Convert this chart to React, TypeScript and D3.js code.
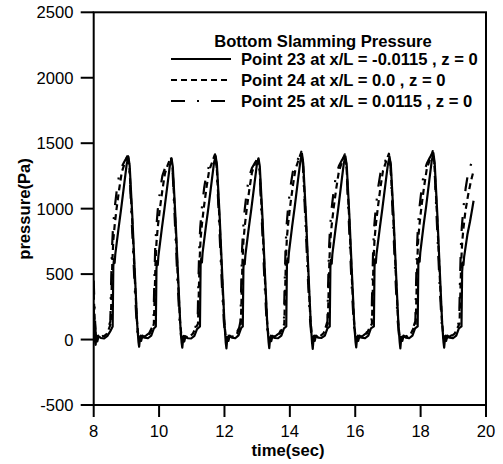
import React from 'react';
import * as d3 from 'd3';

const xTicks = [8, 10, 12, 14, 16, 18, 20];
const yTicks = [-500, 0, 500, 1000, 1500, 2000, 2500];
const xLabel = 'time(sec)';
const yLabel = 'pressure(Pa)';
const legendTitle = 'Bottom Slamming Pressure';
const seriesNames = [
  'Point 23 at x/L = -0.0115 , z = 0',
  'Point 24 at x/L = 0.0 , z = 0',
  'Point 25 at x/L = 0.0115 , z = 0',
];

type P = [number, number];

const point23: P[] = [
  [8.0, 250], [8.02, 120], [8.04, -10], [8.06, -40], [8.08, 30], [8.11, -15], [8.15, 25], [8.22, 12], [8.32, 8], [8.42, 28], [8.5, 60],
  [8.58, 100], [8.6, 560], [8.62, 615], [8.64, 585], [8.66, 650], [8.76, 850], [8.84, 1000], [8.94, 1200], [9.01, 1340], [9.06, 1395], [9.1, 1330], [9.18, 950], [9.26, 500], [9.33, 120], [9.37, -20], [9.39, -55], [9.42, 20], [9.45, -10], [9.49, 30], [9.56, 15], [9.66, 10], [9.76, 30], [9.84, 85],
  [9.9, 100], [9.92, 540], [9.94, 600], [9.96, 570], [9.98, 640], [10.08, 840], [10.16, 990], [10.26, 1190], [10.33, 1330], [10.38, 1385], [10.42, 1320], [10.5, 940], [10.58, 490], [10.65, 110], [10.69, -25], [10.71, -62], [10.74, 15], [10.77, -15], [10.81, 25], [10.88, 10], [10.98, 8], [11.08, 28], [11.16, 80],
  [11.25, 100], [11.27, 570], [11.29, 620], [11.31, 590], [11.33, 660], [11.43, 860], [11.51, 1010], [11.61, 1210], [11.68, 1350], [11.73, 1400], [11.77, 1335], [11.85, 955], [11.93, 505], [12.0, 125], [12.04, -25], [12.06, -68], [12.09, 20], [12.12, -10], [12.16, 30], [12.23, 15], [12.33, 10], [12.43, 32], [12.51, 88],
  [12.56, 100], [12.58, 550], [12.6, 605], [12.62, 575], [12.64, 645], [12.74, 845], [12.82, 995], [12.92, 1195], [12.99, 1335], [13.04, 1385], [13.08, 1325], [13.16, 945], [13.24, 495], [13.31, 115], [13.35, -20], [13.37, -66], [13.4, 18], [13.43, -12], [13.47, 28], [13.54, 12], [13.64, 10], [13.74, 30], [13.82, 85],
  [13.89, 100], [13.91, 565], [13.93, 620], [13.95, 590], [13.97, 660], [14.07, 865], [14.15, 1015], [14.25, 1220], [14.32, 1360], [14.37, 1420], [14.41, 1345], [14.49, 960], [14.57, 505], [14.64, 120], [14.68, -25], [14.7, -72], [14.73, 20], [14.76, -10], [14.8, 30], [14.87, 15], [14.97, 12], [15.07, 30], [15.15, 85],
  [15.22, 100], [15.24, 555], [15.26, 610], [15.28, 580], [15.3, 650], [15.4, 850], [15.48, 1000], [15.58, 1205], [15.65, 1345], [15.7, 1400], [15.74, 1330], [15.82, 950], [15.9, 500], [15.97, 120], [16.01, -20], [16.03, -60], [16.06, 20], [16.09, -10], [16.13, 30], [16.2, 15], [16.3, 10], [16.4, 30], [16.48, 85],
  [16.57, 100], [16.59, 560], [16.61, 615], [16.63, 585], [16.65, 650], [16.75, 850], [16.83, 1000], [16.93, 1200], [17.0, 1340], [17.05, 1395], [17.09, 1330], [17.17, 950], [17.25, 500], [17.32, 120], [17.36, -20], [17.38, -68], [17.41, 20], [17.44, -10], [17.48, 30], [17.55, 15], [17.65, 10], [17.75, 30], [17.83, 85],
  [17.91, 100], [17.93, 570], [17.95, 625], [17.97, 595], [17.99, 665], [18.09, 870], [18.17, 1020], [18.27, 1225], [18.34, 1365], [18.39, 1425], [18.43, 1350], [18.51, 960], [18.59, 505], [18.66, 120], [18.7, -20], [18.72, -62], [18.75, 20], [18.78, -10], [18.82, 30], [18.89, 15], [18.99, 10], [19.09, 30], [19.17, 85],
  [19.25, 100], [19.27, 520], [19.29, 590], [19.31, 570], [19.33, 630], [19.43, 800], [19.51, 900], [19.58, 1000], [19.62, 1060],
];

const point24: P[] = [
  [8.0, 350], [8.03, 150], [8.06, 40], [8.09, 20], [8.14, 30], [8.21, 20], [8.31, 25], [8.41, 45], [8.47, 85],
  [8.52, 120], [8.54, 300], [8.57, 600], [8.6, 760], [8.64, 870], [8.7, 1000], [8.78, 1150], [8.86, 1280], [8.94, 1340], [9.01, 1390], [9.04, 1410], [9.09, 1330], [9.18, 900], [9.26, 450], [9.32, 150], [9.36, 40], [9.39, 20], [9.44, 30], [9.51, 20], [9.61, 25], [9.71, 45], [9.81, 95],
  [9.84, 120], [9.86, 290], [9.89, 580], [9.92, 740], [9.96, 860], [10.02, 990], [10.1, 1140], [10.18, 1270], [10.26, 1330], [10.33, 1375], [10.36, 1390], [10.41, 1320], [10.5, 890], [10.58, 440], [10.64, 145], [10.68, 38], [10.71, 18], [10.76, 28], [10.83, 18], [10.93, 24], [11.03, 44], [11.13, 92],
  [11.19, 120], [11.21, 310], [11.24, 610], [11.27, 770], [11.31, 880], [11.37, 1010], [11.45, 1160], [11.53, 1290], [11.61, 1345], [11.68, 1395], [11.71, 1415], [11.76, 1335], [11.85, 905], [11.93, 455], [11.99, 150], [12.03, 40], [12.06, 20], [12.11, 30], [12.18, 20], [12.28, 25], [12.38, 45], [12.48, 95],
  [12.5, 120], [12.52, 295], [12.55, 590], [12.58, 750], [12.62, 865], [12.68, 995], [12.76, 1145], [12.84, 1275], [12.92, 1335], [12.99, 1375], [13.02, 1390], [13.07, 1320], [13.16, 895], [13.24, 445], [13.3, 148], [13.34, 40], [13.37, 20], [13.42, 30], [13.49, 20], [13.59, 25], [13.69, 45], [13.79, 95],
  [13.83, 120], [13.85, 310], [13.88, 620], [13.91, 780], [13.95, 890], [14.01, 1020], [14.09, 1170], [14.17, 1300], [14.25, 1360], [14.32, 1410], [14.35, 1435], [14.4, 1345], [14.49, 910], [14.57, 455], [14.63, 150], [14.67, 40], [14.7, 20], [14.75, 30], [14.82, 20], [14.92, 25], [15.02, 45], [15.12, 95],
  [15.16, 120], [15.18, 305], [15.21, 610], [15.24, 765], [15.28, 875], [15.34, 1005], [15.42, 1155], [15.5, 1285], [15.58, 1345], [15.65, 1395], [15.68, 1415], [15.73, 1335], [15.82, 905], [15.9, 450], [15.96, 150], [16.0, 40], [16.03, 20], [16.08, 30], [16.15, 20], [16.25, 25], [16.35, 45], [16.45, 95],
  [16.51, 120], [16.53, 300], [16.56, 605], [16.59, 765], [16.63, 875], [16.69, 1005], [16.77, 1160], [16.85, 1290], [16.93, 1350], [17.0, 1400], [17.03, 1420], [17.08, 1335], [17.17, 905], [17.25, 450], [17.31, 150], [17.35, 40], [17.38, 20], [17.43, 30], [17.5, 20], [17.6, 25], [17.7, 45], [17.8, 95],
  [17.85, 120], [17.87, 315], [17.9, 620], [17.93, 780], [17.97, 890], [18.03, 1025], [18.11, 1175], [18.19, 1305], [18.27, 1365], [18.34, 1415], [18.37, 1440], [18.42, 1350], [18.51, 910], [18.59, 455], [18.65, 150], [18.69, 40], [18.72, 20], [18.77, 30], [18.84, 20], [18.94, 25], [19.04, 45], [19.14, 95],
  [19.19, 120], [19.21, 300], [19.24, 580], [19.27, 740], [19.31, 850], [19.37, 980], [19.45, 1100], [19.53, 1200], [19.62, 1290],
];

const point25: P[] = [
  [8.0, 450], [8.03, 200], [8.06, 50], [8.09, 5], [8.14, 25], [8.21, 15], [8.3, 30], [8.38, 50], [8.45, 90],
  [8.51, 140], [8.53, 400], [8.56, 700], [8.59, 850], [8.64, 1000], [8.71, 1150], [8.78, 1260], [8.86, 1320], [8.94, 1360], [9.01, 1390], [9.05, 1400], [9.09, 1320], [9.17, 870], [9.25, 420], [9.31, 140], [9.35, 30], [9.38, 5], [9.43, 25], [9.5, 15], [9.6, 30], [9.7, 50], [9.78, 90],
  [9.83, 140], [9.85, 390], [9.88, 690], [9.91, 840], [9.96, 990], [10.03, 1140], [10.1, 1250], [10.18, 1310], [10.26, 1345], [10.33, 1370], [10.37, 1380], [10.41, 1310], [10.49, 860], [10.57, 410], [10.63, 135], [10.67, 28], [10.7, 4], [10.75, 22], [10.82, 14], [10.92, 28], [11.02, 48], [11.1, 88],
  [11.18, 140], [11.2, 410], [11.23, 710], [11.26, 860], [11.31, 1010], [11.38, 1160], [11.45, 1270], [11.53, 1325], [11.61, 1365], [11.68, 1395], [11.72, 1405], [11.76, 1320], [11.84, 870], [11.92, 420], [11.98, 140], [12.02, 30], [12.05, 5], [12.1, 25], [12.17, 15], [12.27, 30], [12.37, 50], [12.45, 90],
  [12.49, 140], [12.51, 395], [12.54, 695], [12.57, 845], [12.62, 995], [12.69, 1145], [12.76, 1250], [12.84, 1310], [12.92, 1345], [12.99, 1370], [13.03, 1380], [13.07, 1310], [13.15, 865], [13.23, 415], [13.29, 138], [13.33, 30], [13.36, 5], [13.41, 25], [13.48, 15], [13.58, 30], [13.68, 50], [13.76, 90],
  [13.82, 140], [13.84, 410], [13.87, 715], [13.9, 870], [13.95, 1020], [14.02, 1170], [14.09, 1280], [14.17, 1340], [14.25, 1380], [14.32, 1410], [14.36, 1425], [14.4, 1335], [14.48, 880], [14.56, 425], [14.62, 140], [14.66, 30], [14.69, 5], [14.74, 25], [14.81, 15], [14.91, 30], [15.01, 50], [15.09, 90],
  [15.15, 140], [15.17, 405], [15.2, 705], [15.23, 855], [15.28, 1005], [15.35, 1155], [15.42, 1265], [15.5, 1325], [15.58, 1365], [15.65, 1395], [15.69, 1405], [15.73, 1320], [15.81, 870], [15.89, 420], [15.95, 140], [15.99, 30], [16.02, 5], [16.07, 25], [16.14, 15], [16.24, 30], [16.34, 50], [16.42, 90],
  [16.5, 140], [16.52, 400], [16.55, 705], [16.58, 860], [16.63, 1010], [16.7, 1160], [16.77, 1270], [16.85, 1330], [16.93, 1370], [17.0, 1400], [17.04, 1410], [17.08, 1325], [17.16, 870], [17.24, 420], [17.3, 140], [17.34, 30], [17.37, 5], [17.42, 25], [17.49, 15], [17.59, 30], [17.69, 50], [17.77, 90],
  [17.84, 140], [17.86, 410], [17.89, 715], [17.92, 870], [17.97, 1020], [18.04, 1175], [18.11, 1285], [18.19, 1345], [18.27, 1385], [18.34, 1415], [18.38, 1430], [18.42, 1340], [18.5, 880], [18.58, 425], [18.64, 140], [18.68, 30], [18.71, 5], [18.76, 25], [18.83, 15], [18.93, 30], [19.03, 50], [19.11, 90],
  [19.18, 140], [19.2, 400], [19.23, 700], [19.26, 860], [19.31, 1010], [19.38, 1160], [19.45, 1270], [19.53, 1330], [19.62, 1400],
];

const seriesData = [point23, point24, point25];
const dashes = ['none', '6,4', '14,12,2,12'];

export default function App() {
  const W = 503;
  const H = 464;
  const left = 93.7, right = 486, top = 12.3, bottom = 405;
  const x = d3.scaleLinear().domain([8, 20]).range([left, right]);
  const y = d3.scaleLinear().domain([-500, 2500]).range([bottom, top]);
  const line = d3.line<P>().x(d => x(d[0])).y(d => y(d[1]));
  const font = '"Liberation Sans", Arial, Helvetica, sans-serif';
  const legendRows = [59, 80, 101];
  const legendBase = [65, 86, 107];
  const fs = 16.6;

  return (
    <svg width={W} height={H} style={{ position: 'absolute', left: 0, top: 0, background: '#fff' }} fontFamily={font}>
      <defs>
        <clipPath id="plotclip">
          <rect x={left} y={top} width={right - left} height={bottom - top} />
        </clipPath>
      </defs>
      <rect x={0} y={0} width={W} height={H} fill="#fff" />
      <g clipPath="url(#plotclip)">
        {seriesData.map((s, i) => (
          <path key={i} d={line(s) || ''} fill="none" stroke="#000" strokeWidth={2.2}
            strokeDasharray={dashes[i]} strokeLinejoin="round" />
        ))}
      </g>
      <rect x={left} y={top} width={right - left} height={bottom - top} fill="none" stroke="#000" strokeWidth={2} />
      {yTicks.map(t => (
        <g key={'y' + t}>
          <line x1={left - 13} x2={left} y1={y(t)} y2={y(t)} stroke="#000" strokeWidth={2} />
          <text x={73.5} y={y(t) + 6} textAnchor="end" fontSize={fs}>{t}</text>
        </g>
      ))}
      {xTicks.map(t => (
        <g key={'x' + t}>
          <line x1={x(t)} x2={x(t)} y1={bottom} y2={bottom + 12} stroke="#000" strokeWidth={2} />
          <text x={x(t)} y={436.5} textAnchor="middle" fontSize={fs}>{t}</text>
        </g>
      ))}
      <text x={288} y={455.5} textAnchor="middle" fontSize={fs} fontWeight="bold">{xLabel}</text>
      <text transform="translate(30,209) rotate(-90)" textAnchor="middle" fontSize={fs} fontWeight="bold">{yLabel}</text>
      <text x={323} y={46.5} textAnchor="middle" fontSize={fs} fontWeight="bold">{legendTitle}</text>
      {seriesNames.map((n, i) => (
        <g key={n}>
          <line x1={171} x2={231} y1={legendRows[i]} y2={legendRows[i]} stroke="#000" strokeWidth={2} strokeDasharray={dashes[i]} />
          <text x={241} y={legendBase[i]} fontSize={fs} fontWeight="bold">{n}</text>
        </g>
      ))}
    </svg>
  );
}
